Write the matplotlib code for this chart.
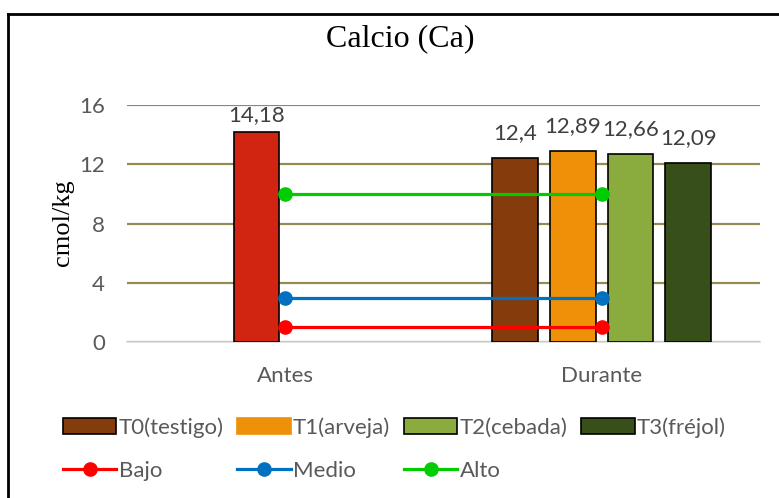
import numpy as np
import matplotlib.pyplot as plt
from matplotlib.lines import Line2D
from matplotlib.patches import Patch

# --- datos ---
categorias = ['Antes', 'Durante']
antes_valor = 14.18
tratamientos = ['T0(testigo)', 'T1(arveja)', 'T2(cebada)', 'T3(fréjol)']
durante_valores = [12.4, 12.89, 12.66, 12.09]
niveles = ['Bajo', 'Medio', 'Alto']
niveles_valores = [[1, 1], [3, 3], [10, 10]]
yticks = [0, 4, 8, 12, 16]

# --- estilos ---
color_antes = '#D22511'
colores_trat = ['#843C0C', '#EE9008', '#8AAB3E', '#375019']
colores_niv = ['#FF0000', '#0070C0', '#00CC00']
fuente = 'Lato'
gris_txt = '#595959'
tam = 16

fig = plt.figure(figsize=(7.79, 4.98), dpi=100)
ax = fig.add_axes([127 / 779, 1 - 342 / 498, 633 / 779, 237 / 498])

x = np.arange(len(categorias))
paso = 0.182
ancho = 0.145

# barra "Antes"
ax.bar(x[0] - 0.5 * paso, antes_valor, ancho, color=color_antes,
       edgecolor='black', linewidth=1.2, zorder=2)
ax.annotate(f"{antes_valor:g}".replace('.', ','), (x[0] - 0.5 * paso, antes_valor),
            xytext=(0, 12), textcoords='offset points', ha='center', va='center',
            fontsize=tam, color='#404040', family=fuente)

# barras "Durante"
offsets = [-1.5, -0.5, 0.5, 1.5]
for i, (t, v) in enumerate(zip(tratamientos, durante_valores)):
    xi = x[1] + offsets[i] * paso
    ax.bar(xi, v, ancho, color=colores_trat[i], edgecolor='black',
           linewidth=1.2, zorder=2)
    ax.annotate(f"{v:g}".replace('.', ','), (xi, v), xytext=(0, 18),
                textcoords='offset points', ha='center', va='center',
                fontsize=tam, color='#404040', family=fuente)

# lineas de niveles
for nombre, vals, c in zip(niveles, niveles_valores, colores_niv):
    ax.plot(x, vals, color=c, linewidth=2.3, marker='o', markersize=9.5,
            zorder=3)

ax.set_xlim(-0.5, 1.5)
ax.set_ylim(0, 16)
ax.set_yticks(yticks)
ax.set_yticklabels([str(t) for t in yticks], fontsize=tam, color=gris_txt,
                   family=fuente)
ax.set_xticks(x)
ax.set_xticklabels(categorias, fontsize=tam, color=gris_txt, family=fuente)
ax.tick_params(axis='y', length=0, pad=16)
ax.tick_params(axis='x', length=0, pad=17)
ax.grid(axis='y', color='#948A54', linewidth=1.6, zorder=0)
ax.set_axisbelow(True)
for s in ['top', 'right', 'left']:
    ax.spines[s].set_visible(False)
ax.spines['bottom'].set_color('#D9D9D9')
ax.spines['bottom'].set_linewidth(1.2)
ax.spines['bottom'].set_zorder(1)

# titulo y etiqueta eje y
fig.text(400 / 779, 1 - 46 / 498, 'Calcio (Ca)', ha='center', va='baseline',
         fontsize=23, family='Liberation Serif')
fig.text(63 / 779, 1 - 223 / 498, 'cmol/kg', ha='center', va='center',
         rotation=90, fontsize=19, family='Liberation Serif')

# leyenda (orden por columnas para que quede por filas)
h_trat = [Patch(facecolor=c, edgecolor='black' if i != 1 else c, linewidth=1.2)
          for i, c in enumerate(colores_trat)]
h_niv = [Line2D([], [], color=c, linewidth=2.3, marker='o', markersize=9.5)
         for c in colores_niv]
vacio = Patch(facecolor='none', edgecolor='none')
handles = [h_trat[0], h_niv[0], h_trat[1], h_niv[1], h_trat[2], h_niv[2],
           h_trat[3], vacio]
labels = [tratamientos[0], niveles[0], tratamientos[1], niveles[1],
          tratamientos[2], niveles[2], tratamientos[3], '']
leg = fig.legend(handles, labels, ncol=4, loc='center left',
                 bbox_to_anchor=(52 / 779, 1 - 449 / 498), frameon=False,
                 prop={'family': fuente, 'size': tam},
                 handlelength=2.4, handletextpad=0.1, columnspacing=0.62,
                 labelspacing=1.05, borderpad=0)
for t in leg.get_texts():
    t.set_color(gris_txt)

# marco de la figura
fig.add_artist(Line2D([8 / 779, 8 / 779], [0, 1 - 14.5 / 498], color='black',
                      linewidth=2, transform=fig.transFigure))
fig.add_artist(Line2D([8 / 779, 1], [1 - 14.5 / 498, 1 - 14.5 / 498],
                      color='black', linewidth=2, transform=fig.transFigure))

fig.savefig('out.png', dpi=100)
